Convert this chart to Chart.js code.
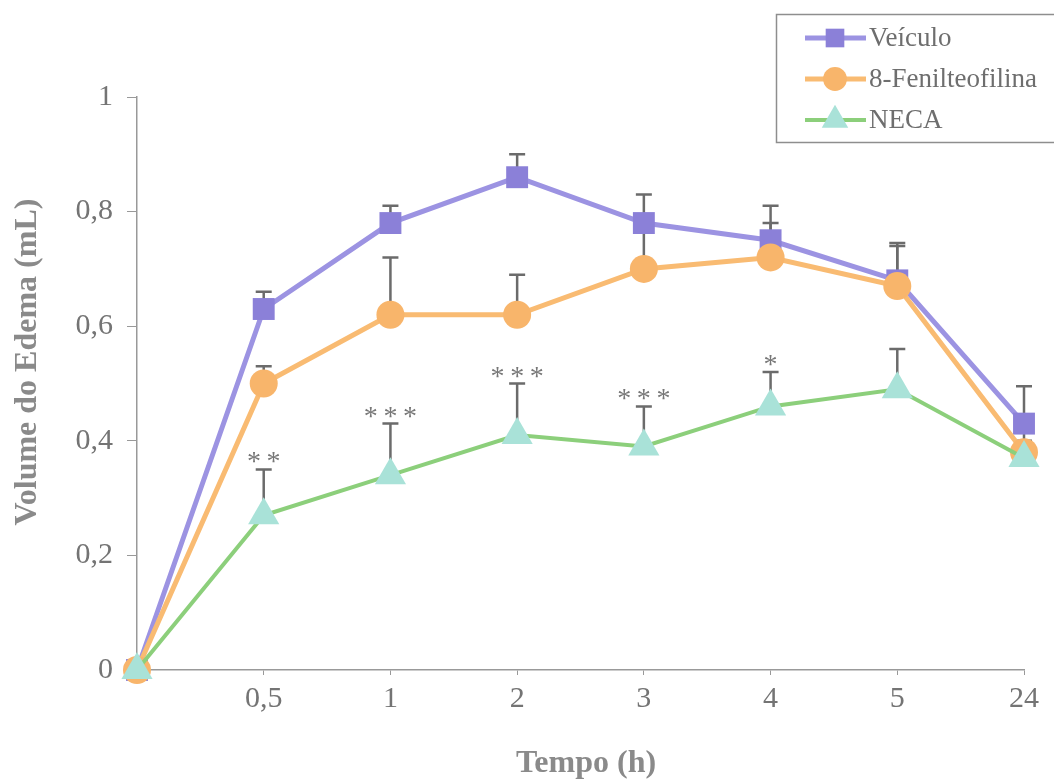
<!DOCTYPE html>
<html>
<head>
<meta charset="utf-8">
<script src="https://cdn.jsdelivr.net/npm/chart.js@4.4.1/dist/chart.umd.min.js"></script>
<style>
  html, body { margin: 0; padding: 0; background: #fff; }
  #wrap { width: 1054px; height: 780px; }
</style>
</head>
<body>
<div id="wrap"><canvas id="grafico"></canvas></div>
<script>
// tempos de coleta (h)
const tempos = ['0', '0,5', '1', '2', '3', '4', '5', '24'];

// volume do edema (mL) e EPM de cada grupo
const veiculo = [0, 0.63, 0.78, 0.86, 0.78, 0.75, 0.68, 0.43];
const veiculoEpm = [0, 0.03, 0.03, 0.04, 0.05, 0.06, 0.065, 0.065];
const fenil = [0, 0.50, 0.62, 0.62, 0.70, 0.72, 0.67, 0.38];
const fenilEpm = [0, 0.03, 0.10, 0.07, 0.07, 0.06, 0.07, 0.04];
const neca = [0, 0.27, 0.34, 0.41, 0.39, 0.46, 0.49, 0.37];
const necaEpm = [0, 0.08, 0.09, 0.09, 0.07, 0.06, 0.07, 0.03];
const necaSig = ['', '**', '***', '***', '***', '*', '', ''];

const ticksY = [0, 0.2, 0.4, 0.6, 0.8, 1];

const fonte = "'Liberation Serif', 'DejaVu Serif', serif";
const cinza = '#747474';

// barras de erro (só para cima), desenhadas antes das linhas
const barrasErro = {
    id: 'barrasErro',
    beforeDatasetsDraw(chart) {
        const ctx = chart.ctx;
        const escalaY = chart.scales.y;
        ctx.save();
        ctx.strokeStyle = '#6b6b6b';
        ctx.lineWidth = 2.5;
        chart.data.datasets.forEach((ds, i) => {
            chart.getDatasetMeta(i).data.forEach((pt, j) => {
                const epm = ds.epm[j];
                if (!epm) return;
                const topo = escalaY.getPixelForValue(ds.data[j] + epm);
                ctx.beginPath();
                ctx.moveTo(pt.x, pt.y);
                ctx.lineTo(pt.x, topo);
                ctx.moveTo(pt.x - 8, topo);
                ctx.lineTo(pt.x + 8, topo);
                ctx.stroke();
            });
        });
        ctx.restore();
    },
    afterDatasetsDraw(chart) {
        // asteriscos de significância sobre o NECA
        const ctx = chart.ctx;
        const escalaY = chart.scales.y;
        const idx = chart.data.datasets.findIndex(d => d.label === 'NECA');
        const ds = chart.data.datasets[idx];
        ctx.save();
        ctx.fillStyle = '#777';
        ctx.font = '28px ' + fonte;
        ctx.textAlign = 'center';
        ctx.textBaseline = 'alphabetic';
        chart.getDatasetMeta(idx).data.forEach((pt, j) => {
            if (!necaSig[j]) return;
            const topo = escalaY.getPixelForValue(ds.data[j] + ds.epm[j]);
            ctx.fillText(necaSig[j].split('').join('\u2009'), pt.x, topo + 1);
        });
        ctx.restore();
    }
};

// títulos dos eixos
const titulosEixos = {
    id: 'titulosEixos',
    afterDraw(chart) {
        const ctx = chart.ctx;
        ctx.save();
        ctx.fillStyle = '#8a8a8a';
        ctx.font = 'bold 32px ' + fonte;
        ctx.textAlign = 'center';
        ctx.textBaseline = 'middle';
        ctx.fillText('Tempo (h)', 586, 764);
        ctx.translate(28, 362);
        ctx.rotate(-Math.PI / 2);
        ctx.fillText('Volume do Edema (mL)', 0, 0);
        ctx.restore();
    }
};

// legenda com caixa no canto superior direito
const legendaCaixa = {
    id: 'legendaCaixa',
    afterDraw(chart) {
        const ctx = chart.ctx;
        ctx.save();
        ctx.strokeStyle = '#8e8e8e';
        ctx.lineWidth = 1.5;
        ctx.strokeRect(776.5, 14.5, 300, 128);
        ctx.font = '27px ' + fonte;
        ctx.textBaseline = 'middle';
        const linhas = [38, 79, 120];
        chart.data.datasets.forEach((ds, i) => {
            const y = linhas[i];
            ctx.strokeStyle = ds.borderColor;
            ctx.lineWidth = ds.borderWidth;
            ctx.beginPath();
            ctx.moveTo(805, y);
            ctx.lineTo(866, y);
            ctx.stroke();
            ctx.fillStyle = ds.pointBackgroundColor;
            ctx.strokeStyle = ds.pointBackgroundColor;
            Chart.helpers.drawPoint(ctx, {
                pointStyle: ds.pointStyle,
                radius: ds.pointRadius * 0.85,
                rotation: 0,
                borderWidth: 0
            }, 835, y);
            ctx.fillStyle = '#6e6e6e';
            ctx.fillText(ds.label, 869, y + 1);
        });
        ctx.restore();
    }
};

const ctx = document.getElementById('grafico').getContext('2d');

new Chart(ctx, {
    type: 'line',
    data: {
        labels: tempos,
        datasets: [{
            label: 'Veículo',
            data: veiculo,
            epm: veiculoEpm,
            borderColor: '#9c93e2',
            borderWidth: 5,
            pointStyle: 'rect',
            pointRadius: 15.5,
            pointBackgroundColor: '#8b80d8',
            pointBorderWidth: 0,
            tension: 0,
            clip: false,
            order: 3
        }, {
            label: '8-Fenilteofilina',
            data: fenil,
            epm: fenilEpm,
            borderColor: '#f9bb72',
            borderWidth: 5,
            pointStyle: 'circle',
            pointRadius: 14,
            pointBackgroundColor: '#f8b56b',
            pointBorderWidth: 0,
            tension: 0,
            clip: false,
            order: 2
        }, {
            label: 'NECA',
            data: neca,
            epm: necaEpm,
            borderColor: '#8ccf7b',
            borderWidth: 4,
            pointStyle: 'triangle',
            pointRadius: 18,
            pointBackgroundColor: '#a9e2d8',
            pointBorderWidth: 0,
            tension: 0,
            clip: false,
            order: 1
        }]
    },
    options: {
        responsive: true,
        maintainAspectRatio: false,
        animation: false,
        layout: { padding: { top: 97, right: 30, bottom: 0, left: 0 } },
        plugins: {
            legend: { display: false },
            tooltip: { enabled: false }
        },
        scales: {
            x: {
                type: 'category',
                offset: false,
                afterFit: s => { s.height = 110; },
                border: { display: true, color: '#999', width: 1.5 },
                grid: {
                    drawOnChartArea: false,
                    tickLength: 5,
                    color: c => c.index === 0 ? 'rgba(0,0,0,0)' : '#999'
                },
                ticks: {
                    color: cinza,
                    font: { family: fonte, size: 30 },
                    padding: 6,
                    maxRotation: 0,
                    callback: (v, i) => i === 0 ? '' : tempos[i]
                }
            },
            y: {
                min: 0,
                max: 1,
                afterFit: s => { s.width = 137; },
                afterBuildTicks: s => { s.ticks = ticksY.map(v => ({ value: v })); },
                border: { display: true, color: '#999', width: 1.5 },
                grid: { drawOnChartArea: false, tickLength: 10, color: '#999' },
                ticks: {
                    color: cinza,
                    font: { family: fonte, size: 30 },
                    padding: 14,
                    callback: v => String(+v.toFixed(1)).replace('.', ',')
                }
            }
        }
    },
    plugins: [barrasErro, titulosEixos, legendaCaixa]
});
</script>
</body>
</html>
